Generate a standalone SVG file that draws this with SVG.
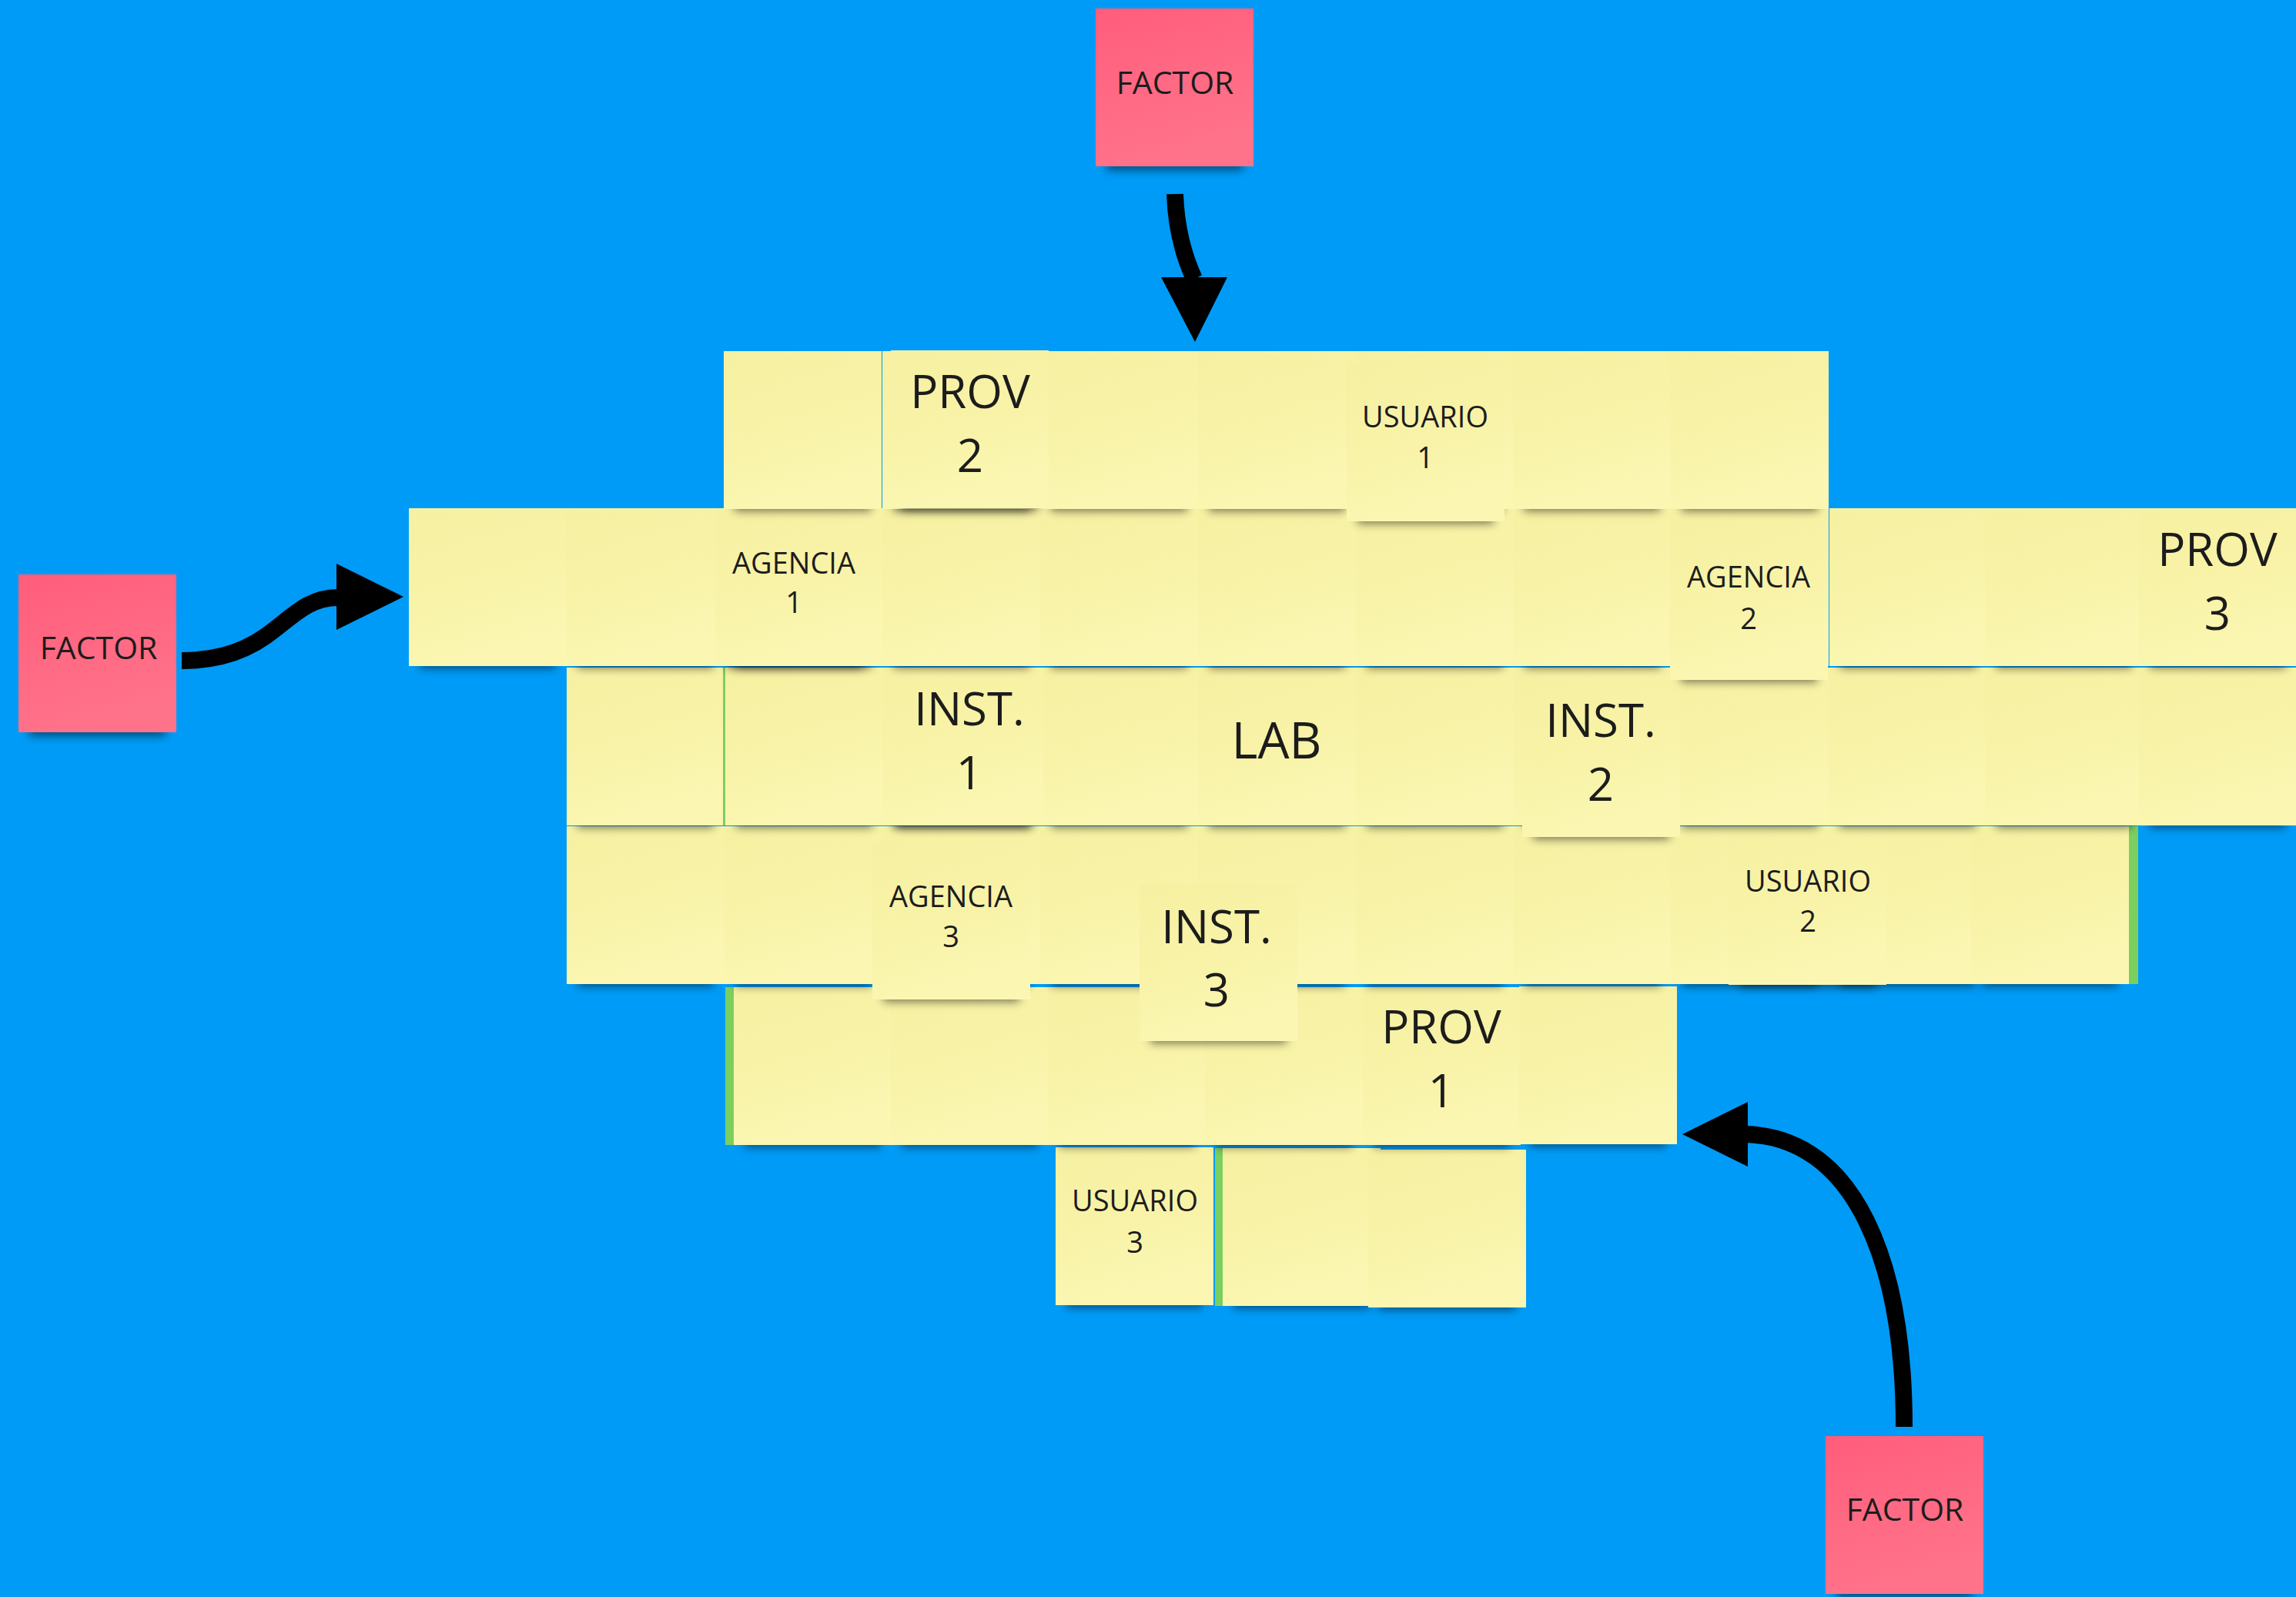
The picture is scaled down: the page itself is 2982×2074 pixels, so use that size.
<svg xmlns="http://www.w3.org/2000/svg" xmlns:xlink="http://www.w3.org/1999/xlink" width="2982" height="2074" viewBox="0 0 2982 2074">
<style>
.t{font-family:"Open Sans","Noto Sans","Liberation Sans",sans-serif;fill:#1c1c1c;text-anchor:middle}
.big{font-size:60px}
.lab{font-size:65px}
.sm{font-size:38px}
.fa{font-size:41px}
.shd{fill:#000;opacity:.5;filter:url(#blur)}
.gr{fill:#7BCF5F}
.arr{fill:none;stroke:#000;stroke-width:22}
</style>
<defs>
<filter id="blur" x="-20%" y="-100%" width="140%" height="300%"><feGaussianBlur stdDeviation="6"/></filter>
<linearGradient id="gy" x1="0" y1="0" x2="0.3" y2="1">
<stop offset="0" stop-color="#F6F0A2"/><stop offset="0.6" stop-color="#F8F3A8"/><stop offset="1" stop-color="#FBF7B3"/>
</linearGradient>
<linearGradient id="gp" x1="0" y1="0" x2="0.3" y2="1">
<stop offset="0" stop-color="#FF5D7B"/><stop offset="1" stop-color="#FF738A"/>
</linearGradient>
<g id="ys"><rect x="14" y="190" width="177" height="18" class="shd"/><rect width="205" height="205" fill="url(#gy)"/></g>
<g id="ps"><rect x="14" y="190" width="177" height="20" class="shd"/><rect width="205" height="205" fill="url(#gp)"/></g>
</defs>
<rect width="2982" height="2074" fill="#009BF6"/>

<!-- Row 5 -->
<g id="usuario3"><use href="#ys" x="1371" y="1490"/><text class="t sm" x="1474" y="1573">USUARIO</text><text class="t sm" x="1474" y="1627">3</text></g>
<g id="r5c2"><rect class="gr" x="1578" y="1491" width="205" height="205"/><use href="#ys" x="1588" y="1491"/></g>
<g id="r5c3"><use href="#ys" x="1777" y="1493"/></g>

<!-- Row 4 -->
<g id="r4c2"><rect class="gr" x="942" y="1282" width="205" height="205"/><use href="#ys" x="953" y="1282"/></g>
<g id="r4c3"><use href="#ys" x="1157" y="1282"/></g>
<g id="r4c4"><use href="#ys" x="1361" y="1282"/></g>
<g id="r4c5"><use href="#ys" x="1565" y="1282"/></g>
<g id="prov1"><use href="#ys" x="1770" y="1282"/><text class="t big" x="1872" y="1355">PROV</text><text class="t big" x="1872" y="1438">1</text></g>
<g id="r4c7"><use href="#ys" x="1973" y="1281"/></g>

<!-- Row 3 -->
<g id="r3c1"><use href="#ys" x="736" y="1073"/></g>
<g id="r3c2"><use href="#ys" x="941" y="1073"/></g>
<g id="r3c3"><use href="#ys" x="1146" y="1073"/></g>
<g id="r3c4"><use href="#ys" x="1351" y="1073"/></g>
<g id="r3c5"><use href="#ys" x="1556" y="1073"/></g>
<g id="r3c6"><use href="#ys" x="1761" y="1073"/></g>
<g id="r3c7"><use href="#ys" x="1966" y="1073"/></g>
<g id="r3c8"><use href="#ys" x="2170" y="1073"/></g>
<g id="r3c9"><use href="#ys" x="2375" y="1073"/></g>
<g id="agencia3"><use href="#ys" x="1133" y="1093"/><text class="t sm" x="1235" y="1178">AGENCIA</text><text class="t sm" x="1235" y="1230">3</text></g>
<g id="usuario2"><use href="#ys" x="2245" y="1074"/><text class="t sm" x="2348" y="1158">USUARIO</text><text class="t sm" x="2348" y="1210">2</text></g>
<g id="r3c10"><rect class="gr" x="2572" y="1073" width="205" height="205"/><use href="#ys" x="2560" y="1073"/></g>
<g id="inst3"><use href="#ys" x="1480" y="1147"/><text class="t big" x="1580" y="1225">INST.</text><text class="t big" x="1580" y="1307">3</text></g>

<!-- Row 2 -->
<g id="r2c1"><use href="#ys" x="736" y="867"/></g>
<g id="r2c2"><rect class="gr" x="939" y="867" width="205" height="205"/><use href="#ys" x="942" y="867"/></g>
<g id="r2c3"><use href="#ys" x="1146" y="867"/></g>
<g id="r2c4"><use href="#ys" x="1351" y="867"/></g>
<g id="inst1"><use href="#ys" x="1150" y="867"/><text class="t big" x="1259" y="942">INST.</text><text class="t big" x="1259" y="1025">1</text></g>
<g id="lab"><use href="#ys" x="1556" y="867"/><text class="t lab" x="1658" y="985">LAB</text></g>
<g id="r2c6"><use href="#ys" x="1761" y="867"/></g>
<g id="r2c7"><use href="#ys" x="1966" y="867"/></g>
<g id="r2c8"><use href="#ys" x="2170" y="867"/></g>
<g id="r2c9"><use href="#ys" x="2375" y="867"/></g>
<g id="r2c10"><use href="#ys" x="2578" y="867"/></g>
<g id="r2c11"><use href="#ys" x="2778" y="867"/></g>
<g id="inst2"><use href="#ys" x="1977" y="882"/><text class="t big" x="2079" y="957">INST.</text><text class="t big" x="2079" y="1040">2</text></g>

<!-- Row 1 -->
<g id="r1c0"><use href="#ys" x="531" y="660"/></g>
<g id="r1c1"><use href="#ys" x="736" y="660"/></g>
<g id="r1c2"><use href="#ys" x="941" y="660"/></g>
<g id="agencia1"><use href="#ys" x="929" y="660"/><text class="t sm" x="1031" y="745">AGENCIA</text><text class="t sm" x="1031" y="796">1</text></g>
<g id="r1c3"><use href="#ys" x="1146" y="660"/></g>
<g id="r1c4"><use href="#ys" x="1351" y="660"/></g>
<g id="r1c5"><use href="#ys" x="1556" y="660"/></g>
<g id="r1c6"><use href="#ys" x="1761" y="660"/></g>
<g id="r1c7"><use href="#ys" x="1966" y="660"/></g>
<g id="r1c8"><use href="#ys" x="2170" y="660"/></g>
<g id="r1c9"><use href="#ys" x="2376" y="660"/></g>
<g id="r1c10"><use href="#ys" x="2578" y="660"/></g>
<g id="prov3"><use href="#ys" x="2778" y="660"/><text class="t big" x="2880" y="735">PROV</text><text class="t big" x="2880" y="818">3</text></g>
<g id="agencia2"><use href="#ys" x="2169" y="678"/><text class="t sm" x="2271" y="763">AGENCIA</text><text class="t sm" x="2271" y="817">2</text></g>

<!-- Row 0 -->
<g id="r0c2"><use href="#ys" x="940" y="456"/></g>
<g id="r0c3"><use href="#ys" x="1146" y="456"/></g>
<g id="r0c4"><use href="#ys" x="1351" y="456"/></g>
<g id="prov2"><use href="#ys" x="1157" y="455"/><text class="t big" x="1260" y="530">PROV</text><text class="t big" x="1260" y="613">2</text></g>
<g id="r0c5"><use href="#ys" x="1556" y="456"/></g>
<g id="r0c6"><use href="#ys" x="1761" y="456"/></g>
<g id="r0c7"><use href="#ys" x="1965" y="456"/></g>
<g id="r0c8"><use href="#ys" x="2170" y="456"/></g>
<g id="usuario1"><use href="#ys" x="1749" y="472"/><text class="t sm" x="1851" y="555">USUARIO</text><text class="t sm" x="1851" y="608">1</text></g>

<!-- Factors -->
<g id="factor-top"><use href="#ps" x="1423" y="11"/><text class="t fa" x="1526" y="122">FACTOR</text></g>
<g id="factor-left"><use href="#ps" x="24" y="746"/><text class="t fa" x="128" y="856">FACTOR</text></g>
<g id="factor-bottom"><use href="#ps" x="2371" y="1865"/><text class="t fa" x="2474" y="1975">FACTOR</text></g>

<!-- Connectors -->
<g id="connectors">
<path class="arr" d="M1526,252 Q1528,312 1551,362"/>
<polygon points="1508,360 1594,360 1552,444" fill="#000"/>
<path class="arr" d="M236,858 C360,858 368,776 439,776"/>
<polygon points="437,732 437,818 524,775" fill="#000"/>
<path class="arr" d="M2473,1853 C2473,1640 2410,1478 2268,1473"/>
<polygon points="2270,1431 2270,1515 2185,1473" fill="#000"/>
</g>
</svg>
